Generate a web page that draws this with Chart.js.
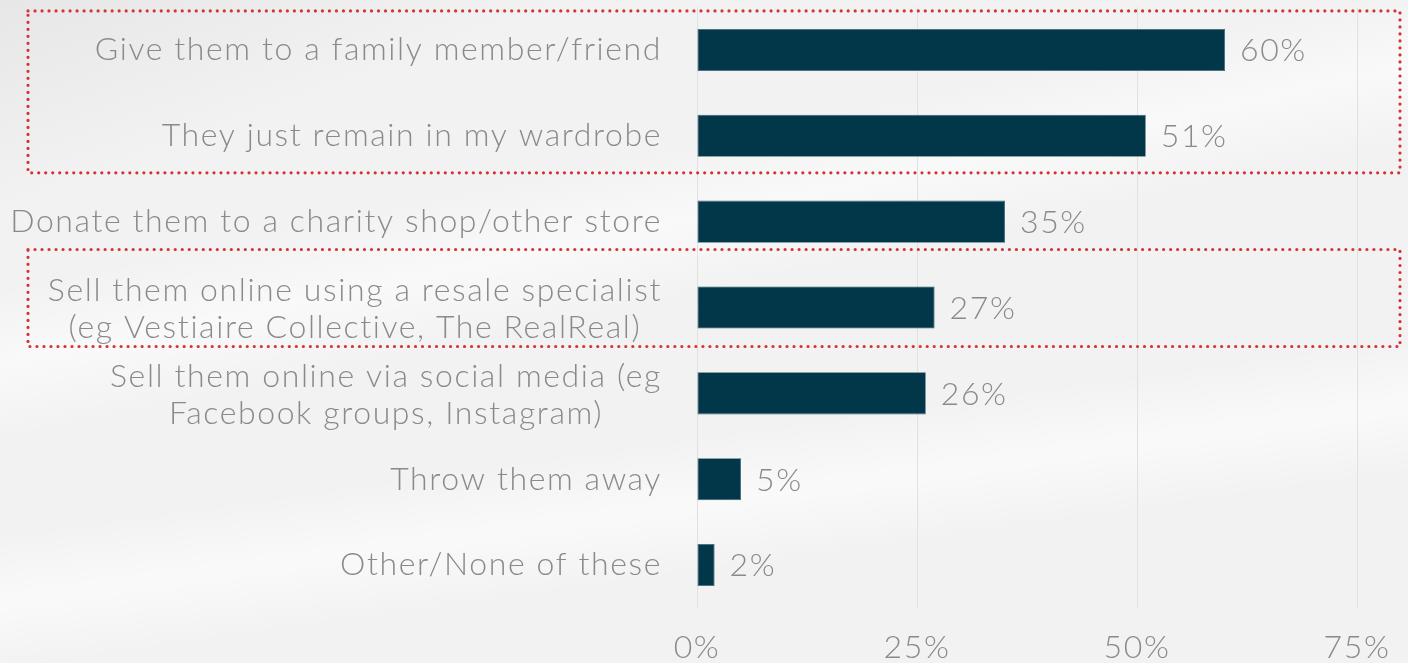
<!DOCTYPE html>
<html>
<head>
<meta charset="utf-8">
<script src="https://cdn.jsdelivr.net/npm/chart.js@4.4.1/dist/chart.umd.min.js"></script>
<style>
  html, body { margin: 0; padding: 0; }
  body {
    width: 1408px; height: 663px; overflow: hidden;
    background:
      linear-gradient(168deg, rgba(255,255,255,0) 30%, rgba(255,255,255,0.55) 38%, rgba(255,255,255,0) 46%),
      linear-gradient(172deg, rgba(255,255,255,0) 62%, rgba(255,255,255,0.6) 70%, rgba(255,255,255,0) 78%),
      linear-gradient(160deg, rgba(226,226,226,0.7) 0%, rgba(226,226,226,0) 18%),
      #f2f2f2;
  }
  #wrap { position: absolute; left: 0; top: 0; width: 1408px; height: 663px; }
</style>
</head>
<body>
<div id="wrap"><canvas id="chart" width="1408" height="663"></canvas></div>
<script>
// What people do with clothes they no longer wear (% of respondents)
const categories = [
  ['Give them to a family member/friend'],
  ['They just remain in my wardrobe'],
  ['Donate them to a charity shop/other store'],
  ['Sell them online using a resale specialist', '(eg Vestiaire Collective, The RealReal)'],
  ['Sell them online via social media (eg', 'Facebook groups, Instagram)'],
  ['Throw them away'],
  ['Other/None of these']
];
const shares = [60, 51, 35, 27, 26, 5, 2];
const axisTicks = [0, 25, 50, 75];
// Rows outlined with a dotted red frame
const highlightedGroups = [[0, 1], [3, 3]];

const FONT = '"Lato", "Open Sans", sans-serif';
const FONT_SIZE = 32;
const TRACKING = '1.6px';
const TEXT_COLOR = '#8a8a8a';
const BAR_COLOR = '#02374a';

function setTextStyle(ctx) {
  ctx.font = '300 ' + FONT_SIZE + 'px ' + FONT;
  ctx.letterSpacing = TRACKING;
  ctx.fillStyle = TEXT_COLOR;
  ctx.textBaseline = 'middle';
}

// Category labels: right-aligned block, each line centred within the block
const categoryLabels = {
  id: 'categoryLabels',
  afterDraw(chart) {
    const { ctx, scales: { y }, chartArea } = chart;
    ctx.save();
    setTextStyle(ctx);
    ctx.textAlign = 'center';
    const rightEdge = chartArea.left - 35;
    const lineH = 37;
    categories.forEach((lines, i) => {
      const cy = y.getPixelForValue(i);
      const w = Math.max(...lines.map(l => ctx.measureText(l).width));
      const cx = rightEdge - w / 2;
      const start = cy - (lines.length - 1) * lineH / 2 + (lines.length > 1 ? 2 : 0);
      lines.forEach((l, k) => ctx.fillText(l, cx, start + k * lineH));
    });
    ctx.restore();
  }
};

// Percentage tick labels under the plot area
const axisLabels = {
  id: 'axisLabels',
  afterDraw(chart) {
    const { ctx, scales: { x }, chartArea } = chart;
    ctx.save();
    setTextStyle(ctx);
    ctx.textAlign = 'center';
    axisTicks.forEach(v => {
      ctx.fillText(v + '%', x.getPixelForValue(v), chartArea.bottom + 40);
    });
    ctx.restore();
  }
};

// Percentage labels just past the end of each bar
const valueLabels = {
  id: 'valueLabels',
  afterDatasetsDraw(chart) {
    const { ctx } = chart;
    const meta = chart.getDatasetMeta(0);
    ctx.save();
    setTextStyle(ctx);
    ctx.textAlign = 'left';
    meta.data.forEach((bar, i) => {
      ctx.fillText(shares[i] + '%', bar.x + 15, bar.y + 1);
    });
    ctx.restore();
  }
};

// Dotted red frames around highlighted rows
const highlightFrames = {
  id: 'highlightFrames',
  afterDraw(chart) {
    const { ctx, scales: { y } } = chart;
    ctx.save();
    ctx.strokeStyle = '#d23238';
    ctx.lineWidth = 3.2;
    ctx.lineCap = 'round';
    ctx.setLineDash([0.01, 7]);
    const left = 28, right = 1400;
    highlightedGroups.forEach(([a, b]) => {
      const multi = categories[a].length > 1;
      const top = y.getPixelForValue(a) - (multi ? 58 : 39);
      const bottom = y.getPixelForValue(b) + (multi ? 39 : 37);
      ctx.strokeRect(left, top, right - left, bottom - top);
    });
    ctx.restore();
  }
};

new Chart(document.getElementById('chart'), {
  type: 'bar',
  data: {
    labels: categories,
    datasets: [{
      data: shares,
      backgroundColor: BAR_COLOR,
      borderColor: '#3d6374',
      borderWidth: 0.8,
      borderSkipped: false,
      categoryPercentage: 1,
      barPercentage: 0.49
    }]
  },
  options: {
    indexAxis: 'y',
    responsive: false,
    devicePixelRatio: 1,
    animation: false,
    layout: { padding: { left: 697, right: 51, top: 7, bottom: 0 } },
    plugins: { legend: { display: false }, tooltip: { enabled: false } },
    scales: {
      y: {
        display: false
      },
      x: {
        min: axisTicks[0],
        max: axisTicks[axisTicks.length - 1],
        afterBuildTicks(scale) { scale.ticks = axisTicks.map(v => ({ value: v })); },
        afterFit(scale) { scale.height = 55; },
        ticks: { display: false },
        grid: { color: '#e1e1e1', lineWidth: 1, drawTicks: false },
        border: { display: false }
      }
    }
  },
  plugins: [highlightFrames, categoryLabels, axisLabels, valueLabels]
});
</script>
</body>
</html>
